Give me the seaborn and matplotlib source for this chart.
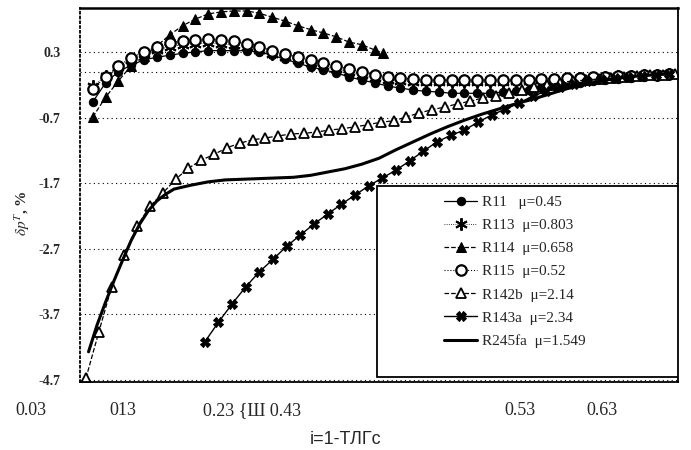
import matplotlib
matplotlib.use("Agg")
import matplotlib.pyplot as plt
import seaborn as sns
from matplotlib.patches import Rectangle

# ---------------- data ----------------
tau_upper = [0.045, 0.06, 0.075, 0.09, 0.105, 0.12, 0.135, 0.15, 0.165, 0.18,
             0.195, 0.21, 0.225, 0.24, 0.255, 0.27, 0.285, 0.30, 0.315, 0.33,
             0.345, 0.36, 0.375, 0.39, 0.405, 0.42, 0.435, 0.45, 0.465, 0.48,
             0.495, 0.51, 0.525, 0.54, 0.555, 0.57, 0.585, 0.60, 0.615, 0.63,
             0.645, 0.66, 0.675, 0.69, 0.705, 0.72]

r11 = [-0.46, -0.17, 0.00, 0.10, 0.18, 0.22, 0.25, 0.28, 0.30, 0.32,
       0.32, 0.32, 0.32, 0.30, 0.25, 0.19, 0.13, 0.07, 0.03, -0.02,
       -0.08, -0.13, -0.17, -0.22, -0.25, -0.28, -0.30, -0.31, -0.33, -0.33,
       -0.33, -0.33, -0.31, -0.30, -0.28, -0.25, -0.22, -0.19, -0.17, -0.14,
       -0.13, -0.11, -0.10, -0.08, -0.07, -0.05]

r113 = [-0.22, -0.07, 0.07, 0.18, 0.27, 0.33, 0.38, 0.41, 0.42, 0.44,
        0.42, 0.41, 0.38, 0.33, 0.27, 0.22, 0.18, 0.13, 0.09, 0.04,
        0.00, -0.05, -0.10, -0.13, -0.14, -0.16, -0.16, -0.16, -0.16, -0.16,
        -0.16, -0.16, -0.16, -0.14, -0.14, -0.13, -0.13, -0.11, -0.10, -0.10,
        -0.08, -0.07, -0.07, -0.05, -0.05, -0.035]

r115 = [-0.26, -0.08, 0.09, 0.21, 0.30, 0.38, 0.44, 0.47, 0.48, 0.50,
        0.48, 0.47, 0.42, 0.38, 0.32, 0.27, 0.22, 0.18, 0.13, 0.09,
        0.04, 0.00, -0.05, -0.08, -0.10, -0.11, -0.13, -0.13, -0.13, -0.13,
        -0.13, -0.13, -0.13, -0.13, -0.13, -0.11, -0.11, -0.10, -0.10, -0.08,
        -0.08, -0.07, -0.07, -0.05, -0.05, -0.035]

tau_r114 = [0.045, 0.06, 0.075, 0.09, 0.105, 0.12, 0.135, 0.15, 0.165, 0.18,
            0.195, 0.21, 0.225, 0.24, 0.255, 0.27, 0.285, 0.30, 0.315, 0.33,
            0.345, 0.36, 0.375, 0.385]
r114 = [-0.69, -0.39, -0.14, 0.09, 0.24, 0.39, 0.56, 0.70, 0.80, 0.88,
        0.91, 0.925, 0.925, 0.89, 0.83, 0.77, 0.70, 0.64, 0.59, 0.53,
        0.45, 0.41, 0.33, 0.28]

tau_r142b = [0.037, 0.052, 0.067, 0.082, 0.097, 0.112, 0.127, 0.142, 0.157, 0.172,
             0.187, 0.202, 0.217, 0.232, 0.247, 0.262, 0.277, 0.292, 0.307, 0.322,
             0.337, 0.352, 0.367, 0.382, 0.397, 0.412, 0.427, 0.442, 0.457, 0.472,
             0.487, 0.502, 0.517, 0.532, 0.547, 0.562, 0.577, 0.592, 0.607, 0.622,
             0.637, 0.652, 0.667, 0.682, 0.697, 0.712, 0.727]
r142b = [-4.67, -3.97, -3.28, -2.79, -2.35, -2.05, -1.85, -1.64, -1.47, -1.35,
         -1.26, -1.16, -1.09, -1.04, -1.01, -0.98, -0.95, -0.94, -0.92, -0.89,
         -0.87, -0.84, -0.81, -0.77, -0.75, -0.69, -0.63, -0.58, -0.54, -0.49,
         -0.45, -0.40, -0.37, -0.33, -0.28, -0.23, -0.20, -0.17, -0.14, -0.13,
         -0.11, -0.10, -0.08, -0.07, -0.05, -0.05, -0.035]

tau_r143a = [0.176, 0.192, 0.208, 0.224, 0.240, 0.256, 0.272, 0.288, 0.304, 0.320,
             0.336, 0.352, 0.368, 0.384, 0.400, 0.416, 0.432, 0.448, 0.464, 0.480,
             0.496, 0.512, 0.528, 0.544, 0.560, 0.576, 0.592, 0.608, 0.624, 0.640,
             0.656, 0.672, 0.688, 0.704, 0.720]
r143a = [-4.12, -3.82, -3.54, -3.28, -3.05, -2.86, -2.66, -2.49, -2.32, -2.17,
         -2.02, -1.88, -1.74, -1.62, -1.50, -1.36, -1.21, -1.07, -0.97, -0.89,
         -0.77, -0.66, -0.57, -0.48, -0.37, -0.30, -0.23, -0.19, -0.14, -0.11,
         -0.10, -0.08, -0.07, -0.05, -0.035]

tau_r245fa = [0.04, 0.05, 0.06, 0.07, 0.08, 0.09, 0.10, 0.11, 0.12, 0.13,
              0.14, 0.16, 0.18, 0.20, 0.22, 0.24, 0.26, 0.28, 0.30, 0.32,
              0.34, 0.36, 0.38, 0.40, 0.42, 0.44, 0.46, 0.48, 0.50, 0.52,
              0.54, 0.56, 0.58, 0.60, 0.62, 0.64, 0.66, 0.68, 0.70, 0.72]
r245fa = [-4.27, -3.86, -3.51, -3.18, -2.87, -2.57, -2.32, -2.12, -1.97, -1.87,
          -1.79, -1.73, -1.68, -1.65, -1.64, -1.63, -1.62, -1.61, -1.58, -1.53,
          -1.48, -1.41, -1.32, -1.19, -1.07, -0.95, -0.84, -0.74, -0.65, -0.57,
          -0.49, -0.42, -0.34, -0.26, -0.20, -0.14, -0.10, -0.07, -0.05, -0.035]

legend_labels = ["R11   \u03bc=0.45", "R113  \u03bc=0.803", "R114  \u03bc=0.658",
                 "R115  \u03bc=0.52", "R142b  \u03bc=2.14", "R143a  \u03bc=2.34",
                 "R245fa  \u03bc=1.549"]

ytick_values = [0.3, -0.7, -1.7, -2.7, -3.7, -4.7]
ytick_labels = ["0.3", "-0.7", "-1.7", "-2.7", "-3.7", "-4.7"]
xtick_labels = ["0.03", "013", "0.23 {\u0428 0.43", "0.53", "0.63"]
xtick_pos = [-0.082, 0.072, 0.288, 0.736, 0.873]   # axes-fraction positions
x_label = "i=1-\u0422\u041b\u0413c"
y_label = r"$\delta p^{T}$, %"

# ---------------- style ----------------
sns.set_theme(style="white")
plt.rcParams['font.family'] = ['Liberation Serif', 'DejaVu Serif']
plt.rcParams['mathtext.fontset'] = 'stix'

fig = plt.figure(figsize=(6.91, 4.5), dpi=100)
ax = fig.add_axes([80 / 691, 68 / 450, 598 / 691, 374 / 450])

series = [
    (tau_upper, r11, dict(marker='o', markersize=6, markerfacecolor='black',
                          markeredgecolor='black', linestyle='-', linewidth=0.9)),
    (tau_upper, r113, dict(marker=(6, 2, 0), markersize=9, markeredgewidth=1.4,
                           markeredgecolor='black', linestyle=':', linewidth=0.6)),
    (tau_r114, r114, dict(marker='^', markersize=7.5, markerfacecolor='black',
                          markeredgecolor='black', linestyle='--', linewidth=0.9)),
    (tau_upper, r115, dict(marker='o', markersize=7.5, markerfacecolor='white',
                           markeredgecolor='black', markeredgewidth=1.6,
                           linestyle=':', linewidth=0.8)),
    (tau_r142b, r142b, dict(marker='^', markersize=7.5, markerfacecolor='white',
                            markeredgecolor='black', markeredgewidth=1.3,
                            linestyle='--', linewidth=0.9)),
    (tau_r143a, r143a, dict(marker='X', markersize=7, markerfacecolor='black',
                            markeredgecolor='black', linestyle='-', linewidth=1.0)),
    (tau_r245fa, r245fa, dict(marker=None, linestyle='-', linewidth=2.2)),
]

for (xs, ys, kw), lab in zip(series, legend_labels):
    sns.lineplot(x=xs, y=ys, ax=ax, color='black', sort=False, estimator=None,
                 label=lab, **kw)

ax.set_xlim(0.03, 0.73)
ax.set_ylim(-4.73, 0.97)

ax.set_xticks([])
ax.set_yticks(ytick_values)
ax.set_yticklabels(ytick_labels, fontsize=10, fontweight='bold')
ax.set_yticks([0.0], minor=True)
ax.tick_params(axis='y', which='both', length=0, pad=14)
ax.grid(False)
ax.yaxis.grid(True, which='both', linestyle=(0, (1, 3)), color='black', linewidth=0.8)
ax.set_xlabel("")
ax.set_ylabel("")

for side in ['top', 'right', 'bottom', 'left']:
    ax.spines[side].set_color('black')
    ax.spines[side].set_linewidth(1.3)
ax.spines['top'].set_linewidth(1.8)
ax.spines['left'].set_linestyle(':')

for lab, xp in zip(xtick_labels, xtick_pos):
    ax.text(xp, -0.077, lab, transform=ax.transAxes, ha='center', va='center',
            fontsize=13, family=['Liberation Serif', 'DejaVu Serif'])

fig.text(346 / 691, 1 - 440 / 450, x_label, ha='center', va='center',
         fontsize=13, family=['Liberation Sans', 'DejaVu Sans'])
fig.text(22 / 691, 1 - 213 / 450, y_label, rotation=90, ha='center', va='center',
         fontsize=11, fontweight='bold')

# legend box
ax.add_patch(Rectangle((0.4967, 0.0134), 0.5033, 0.5107, transform=ax.transAxes,
                       fill=True, facecolor='white', edgecolor='black', lw=1.3, zorder=5))
handles, labels = ax.get_legend_handles_labels()
leg = ax.legend(handles, labels, loc='center', bbox_to_anchor=(0.727, 0.295),
                frameon=False, fontsize=11, labelspacing=0.62, handlelength=2.2,
                handletextpad=0.3, borderpad=0.2)
leg.set_zorder(6)

fig.savefig("out.png", dpi=100)
